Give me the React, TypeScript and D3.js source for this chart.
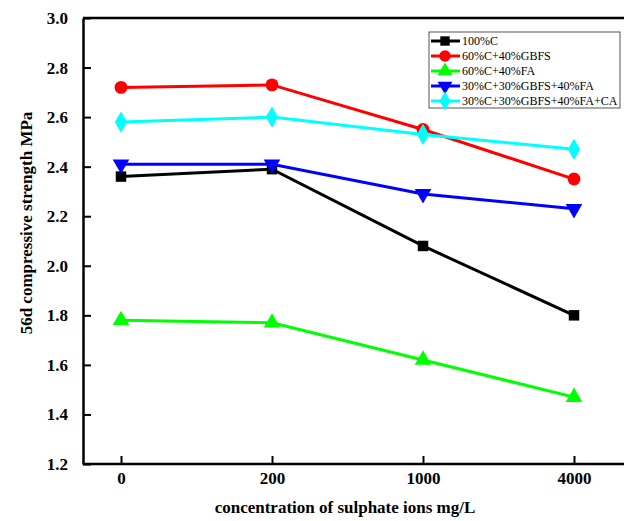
import { useEffect, useRef } from "react";
import * as d3 from "d3";

const categories = ["0", "200", "1000", "4000"];
const seriesNames = [
  "100%C",
  "60%C+40%GBFS",
  "60%C+40%FA",
  "30%C+30%GBFS+40%FA",
  "30%C+30%GBFS+40%FA+CA",
];
const c100 = [2.36, 2.39, 2.08, 1.8];
const gbfs40 = [2.72, 2.73, 2.55, 2.35];
const fa40 = [1.78, 1.77, 1.62, 1.47];
const gbfsFa = [2.41, 2.41, 2.29, 2.23];
const gbfsFaCa = [2.58, 2.6, 2.53, 2.47];
const yTicks = [1.2, 1.4, 1.6, 1.8, 2.0, 2.2, 2.4, 2.6, 2.8, 3.0];
const colors = ["#000000", "#ff0000", "#00ff00", "#0000ff", "#00ffff"];
const symbols = [
  d3.symbolSquare,
  d3.symbolCircle,
  d3.symbolTriangle,
  d3.symbolTriangle,
  d3.symbolDiamond,
];
const symbolSizes = [110, 130, 120, 120, 130];

export default function App() {
  const svgRef = useRef<SVGSVGElement>(null);
  const width = 624;
  const height = 521;

  useEffect(() => {
    const svg = d3.select(svgRef.current);
    svg.selectAll("*").remove();
    const font = "'Liberation Serif', 'Times New Roman', serif";
    const left = 83;
    const top = 18;
    const bottom = 464;

    const x = d3.scalePoint<string>().domain(categories).range([121, 574]);
    const y = d3.scaleLinear().domain([1.2, 3.0]).range([bottom, top]);

    const allSeries = [c100, gbfs40, fa40, gbfsFa, gbfsFaCa];

    // lines
    const line = d3
      .line<number>()
      .x((_, i) => x(categories[i])!)
      .y((d) => y(d));

    allSeries.forEach((vals, si) => {
      svg
        .append("path")
        .datum(vals)
        .attr("d", line)
        .attr("fill", "none")
        .attr("stroke", colors[si])
        .attr("stroke-width", 3);
    });

    allSeries.forEach((vals, si) => {
      const sym = d3.symbol().type(symbols[si]).size(symbolSizes[si]);
      svg
        .selectAll(".m" + si)
        .data(vals)
        .enter()
        .append("path")
        .attr("d", sym)
        .attr("fill", colors[si])
        .attr("transform", (d, i) => {
          const rot = si === 3 ? " rotate(180)" : "";
          return `translate(${x(categories[i])},${y(d)})${rot}`;
        });
    });

    // axes
    svg
      .append("line")
      .attr("x1", left)
      .attr("x2", width)
      .attr("y1", top)
      .attr("y2", top)
      .attr("stroke", "#000")
      .attr("stroke-width", 2.5);

    const yAxis = svg
      .append("g")
      .attr("transform", `translate(${left},0)`)
      .call(
        d3
          .axisLeft(y)
          .tickValues(yTicks)
          .tickSizeInner(-8)
          .tickSizeOuter(0)
          .tickPadding(15)
          .tickFormat(d3.format(".1f"))
      );
    yAxis.select(".domain").attr("stroke-width", 2.5);
    yAxis.selectAll(".tick line").attr("stroke-width", 2);
    yAxis
      .selectAll("text")
      .attr("font-family", font)
      .attr("font-size", 17)
      .attr("font-weight", "bold")
      .attr("fill", "#000");

    const xAxis = svg
      .append("g")
      .attr("transform", `translate(0,${bottom})`)
      .call(d3.axisBottom(x).tickSizeInner(-8).tickSizeOuter(0).tickPadding(8));
    xAxis.select(".domain").attr("d", `M${left},0H${width}`).attr("stroke-width", 2.5);
    xAxis.selectAll(".tick line").attr("stroke-width", 2);
    xAxis
      .selectAll("text")
      .attr("font-family", font)
      .attr("font-size", 17)
      .attr("font-weight", "bold")
      .attr("fill", "#000");

    // titles
    svg
      .append("text")
      .attr("x", 345)
      .attr("y", 513)
      .attr("text-anchor", "middle")
      .attr("font-family", font)
      .attr("font-size", 17)
      .attr("font-weight", "bold")
      .text("concentration of sulphate ions mg/L");

    svg
      .append("text")
      .attr("transform", `translate(32,${(top + bottom) / 2 - 18}) rotate(-90)`)
      .attr("text-anchor", "middle")
      .attr("font-family", font)
      .attr("font-size", 17)
      .attr("font-weight", "bold")
      .text("56d compressive strength MPa");

    // legend
    const lg = svg.append("g").attr("transform", "translate(429,32)");
    lg.append("rect")
      .attr("width", 191)
      .attr("height", 76)
      .attr("fill", "#fff")
      .attr("stroke", "#555")
      .attr("stroke-width", 1);
    seriesNames.forEach((name, si) => {
      const ly = 9 + si * 15;
      lg.append("line")
        .attr("x1", 2)
        .attr("x2", 31)
        .attr("y1", ly)
        .attr("y2", ly)
        .attr("stroke", colors[si])
        .attr("stroke-width", 3);
      const sym = d3.symbol().type(symbols[si]).size(symbolSizes[si] * 0.8);
      lg.append("path")
        .attr("d", sym)
        .attr("fill", colors[si])
        .attr("transform", `translate(16,${ly})${si === 3 ? " rotate(180)" : ""}`);
      lg.append("text")
        .attr("x", 33)
        .attr("y", ly + 4)
        .attr("font-family", font)
        .attr("font-size", 12)
        .attr("fill", "#000")
        .text(name);
    });
  }, []);

  return (
    <svg
      ref={svgRef}
      width={width}
      height={height}
      style={{ position: "absolute", left: 0, top: 0, background: "#fff" }}
    />
  );
}
